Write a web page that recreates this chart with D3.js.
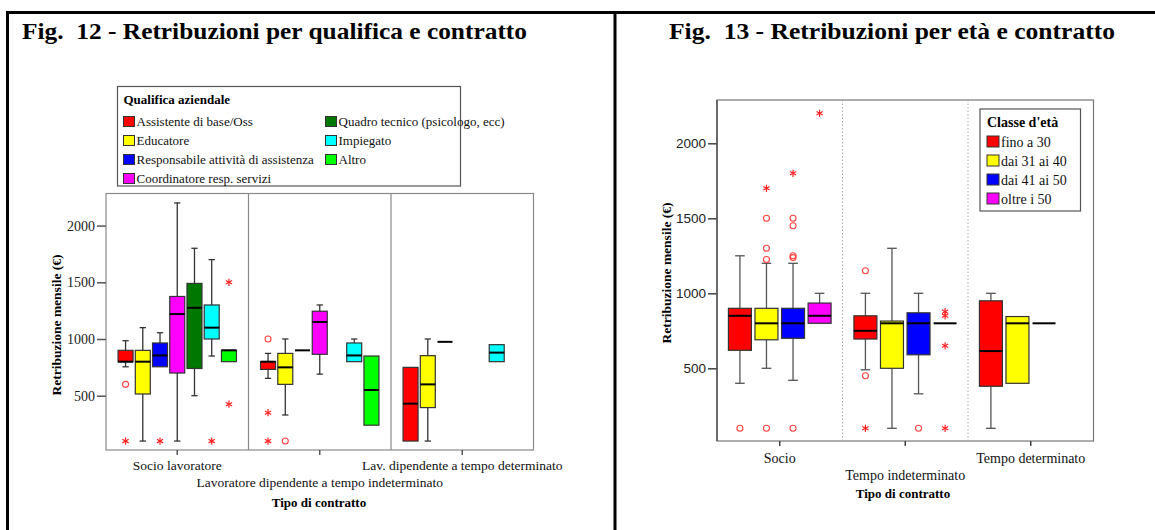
<!DOCTYPE html>
<html><head><meta charset="utf-8">
<script src="https://cdn.jsdelivr.net/npm/d3@7"></script>
<style>body{margin:0;background:#fff}svg{display:block}</style>
</head><body>
<svg id="c" width="1155" height="530"></svg>
<script>
// ---------- DATA: Fig. 12 ----------
const contracts12 = ["Socio lavoratore", "Lavoratore dipendente a tempo indeterminato", "Lav. dipendente a tempo determinato"];
const qualifiche = ["Assistente di base/Oss", "Educatore", "Responsabile attività di assistenza", "Coordinatore resp. servizi",
  "Quadro tecnico (psicologo, ecc)", "Impiegato", "Altro"];
const colors12 = ["#ff0000", "#ffff00", "#0000ff", "#ff00ff", "#007800", "#00ffff", "#00ff00"];
// [whisker low, Q1, median, Q3, whisker high] per contract
const assistente = [[755, 800, 800, 900, 985], [653, 732, 800, 800, 873], [null, 100, 430, 750, null]];
const educatore = [[100, 515, 800, 900, 1100], [330, 600, 750, 873, 1000], [100, 395, 600, 853, 1000]];
const responsabile = [[null, 755, 855, 965, 1055], [null, 900, 900, 900, null], [null, 975, 975, 975, null]];
const coordinatore = [[100, 700, 1220, 1375, 2200], [690, 865, 1150, 1245, 1300], null];
const quadro = [[500, 740, 1275, 1490, 1800], null, null];
const impiegato = [[850, 1000, 1100, 1300, 1700], [null, 800, 855, 965, 1000], [null, 800, 880, 950, null]];
const altro = [[null, 800, 900, 900, null], [null, 240, 550, 850, null], null];
const stats12 = [assistente, educatore, responsabile, coordinatore, quadro, impiegato, altro];
// outliers: [contract index, series index, value, kind ("o" = outlier, "*" = extreme)]
const outliers12 = [[0, 0, 600, "o"], [0, 0, 100, "*"], [0, 2, 100, "*"], [0, 5, 100, "*"], [0, 6, 1500, "*"], [0, 6, 425, "*"],
  [1, 0, 1000, "o"], [1, 0, 350, "*"], [1, 0, 100, "*"], [1, 1, 100, "o"]];
const yTicks12 = [500, 1000, 1500, 2000];

// ---------- DATA: Fig. 13 ----------
const contracts13 = ["Socio", "Tempo indeterminato", "Tempo determinato"];
const classi = ["fino a 30", "dai 31 ai 40", "dai 41 ai 50", "oltre i 50"];
const colors13 = ["#ff0000", "#ffff00", "#0000ff", "#ff00ff"];
const fino30 = [[400, 620, 850, 900, 1250], [490, 695, 750, 850, 1000], [100, 380, 615, 950, 1000]];
const dai31 = [[500, 690, 800, 900, 1200], [100, 500, 800, 815, 1300], [null, 400, 800, 845, null]];
const dai41 = [[420, 700, 800, 900, 1200], [330, 590, 800, 870, 1000], [null, 800, 800, 800, null]];
const oltre50 = [[null, 800, 850, 935, 1000], [null, 800, 800, 800, null], null];
const stats13 = [fino30, dai31, dai41, oltre50];
const outliers13 = [[0, 0, 100, "o"],
  [0, 1, 1700, "*"], [0, 1, 1500, "o"], [0, 1, 1300, "o"], [0, 1, 1225, "o"], [0, 1, 100, "o"],
  [0, 2, 1800, "*"], [0, 2, 1500, "o"], [0, 2, 1450, "o"], [0, 2, 1250, "o"], [0, 2, 1238, "o"], [0, 2, 100, "o"],
  [0, 3, 2200, "*"],
  [1, 0, 1150, "o"], [1, 0, 450, "o"], [1, 0, 100, "*"], [1, 2, 100, "o"],
  [1, 3, 878, "*"], [1, 3, 850, "*"], [1, 3, 650, "*"], [1, 3, 100, "*"]];
const yTicks13 = [500, 1000, 1500, 2000];

// ---------- DRAW ----------
const SERIF = '"Liberation Serif", "Times New Roman", serif';
const SANS = '"Liberation Sans", Arial, sans-serif';
const svg = d3.select("#c");

// outer frame
svg.append("line").attr("x1", 6).attr("x2", 1155).attr("y1", 12.5).attr("y2", 12.5).attr("stroke", "#000").attr("stroke-width", 3);
svg.append("line").attr("x1", 7.5).attr("x2", 7.5).attr("y1", 11).attr("y2", 530).attr("stroke", "#000").attr("stroke-width", 3);
svg.append("line").attr("x1", 615).attr("x2", 615).attr("y1", 11).attr("y2", 530).attr("stroke", "#000").attr("stroke-width", 3);

// titles
svg.append("text").attr("x", 22).attr("y", 39).style("white-space", "pre").style("font-family", SERIF)
  .style("font-size", "23px").style("font-weight", "bold").attr("textLength", 505).attr("lengthAdjust", "spacingAndGlyphs")
  .text("Fig.  12 - Retribuzioni per qualifica e contratto");
svg.append("text").attr("x", 669).attr("y", 39).style("white-space", "pre").style("font-family", SERIF)
  .style("font-size", "23px").style("font-weight", "bold").attr("textLength", 446).attr("lengthAdjust", "spacingAndGlyphs")
  .text("Fig.  13 - Retribuzioni per età e contratto");

function drawStar(g, cx, cy, r, color) {
  [90, 30, -30].forEach(a => {
    const t = a * Math.PI / 180;
    g.append("line").attr("x1", cx - r * Math.cos(t)).attr("y1", cy - r * Math.sin(t))
      .attr("x2", cx + r * Math.cos(t)).attr("y2", cy + r * Math.sin(t))
      .attr("stroke", color).attr("stroke-width", 1.2);
  });
}

function boxChart(cfg) {
  const g = svg.append("g");
  const x0 = d3.scaleBand().domain(cfg.contracts).range([cfg.left, cfg.right]);
  const x1 = d3.scaleBand().domain(cfg.series).range([0, x0.bandwidth()])
    .paddingInner(cfg.padIn).paddingOuter(cfg.padOut);
  const y = d3.scaleLinear().domain([0, 2000]).range(cfg.yRange);
  const bw = x1.bandwidth();

  // plot frame
  g.append("rect").attr("x", cfg.left).attr("y", cfg.top).attr("width", cfg.right - cfg.left)
    .attr("height", cfg.bottom - cfg.top).attr("fill", "#fff").attr("stroke", cfg.frameColor).attr("stroke-width", 1.2);
  // dividers
  cfg.contracts.slice(1).forEach(c => {
    g.append("line").attr("x1", x0(c)).attr("x2", x0(c)).attr("y1", cfg.top).attr("y2", cfg.bottom)
      .attr("stroke", cfg.dividerColor).attr("stroke-width", cfg.dividerWidth)
      .attr("stroke-dasharray", cfg.dividerDash);
  });

  // boxes
  cfg.series.forEach((s, si) => {
    cfg.contracts.forEach((c, ci) => {
      const st = cfg.stats[si][ci];
      if (!st) return;
      const [lo, q1, med, q3, hi] = st;
      const bx = x0(c) + x1(s), cx = bx + bw / 2, cap = bw * 0.42;
      const wk = (v, edge) => {
        g.append("line").attr("x1", cx).attr("x2", cx).attr("y1", y(v)).attr("y2", y(edge))
          .attr("stroke", cfg.whiskerColor).attr("stroke-width", 1.3);
        g.append("line").attr("x1", cx - cap / 2).attr("x2", cx + cap / 2).attr("y1", y(v)).attr("y2", y(v))
          .attr("stroke", cfg.whiskerColor).attr("stroke-width", 1.3);
      };
      if (hi != null) wk(hi, q3);
      if (lo != null) wk(lo, q1);
      if (q3 > q1) {
        g.append("rect").attr("x", bx).attr("y", y(q3)).attr("width", bw).attr("height", y(q1) - y(q3))
          .attr("fill", cfg.colors[si]).attr("stroke", "#333").attr("stroke-width", 1.2);
      }
      g.append("line").attr("x1", bx).attr("x2", bx + bw).attr("y1", y(med)).attr("y2", y(med))
        .attr("stroke", "#000").attr("stroke-width", 2);
    });
  });

  // outliers
  cfg.outliers.forEach(([ci, si, v, k]) => {
    const cx = x0(cfg.contracts[ci]) + x1(cfg.series[si]) + bw / 2;
    if (k === "o") {
      g.append("circle").attr("cx", cx).attr("cy", y(v)).attr("r", 3).attr("fill", "none")
        .attr("stroke", "#ff4040").attr("stroke-width", 1.1);
    } else {
      drawStar(g, cx, y(v), 3.6, "#ff2020");
    }
  });

  // y axis
  const ya = g.append("g").attr("transform", `translate(${cfg.left},0)`)
    .call(d3.axisLeft(y).tickValues(cfg.yTicks).tickSize(cfg.tickLen).tickPadding(2).tickFormat(d3.format("d")));
  ya.select(".domain").remove();
  ya.selectAll(".tick line").attr("stroke", cfg.tickColor).attr("stroke-width", 1.5);
  ya.selectAll(".tick text").style("font-family", cfg.tickFont).style("font-size", cfg.tickFontSize + "px").attr("fill", "#222");
  if (cfg.axisLine) {
    g.append("line").attr("x1", cfg.left).attr("x2", cfg.left).attr("y1", cfg.top).attr("y2", cfg.bottom)
      .attr("stroke", cfg.axisLine).attr("stroke-width", 1.5);
  }

  // x axis
  const xa = g.append("g").attr("transform", `translate(0,${cfg.bottom})`)
    .call(d3.axisBottom(x0).tickSize(5).tickFormat(""));
  xa.select(".domain").remove();
  xa.selectAll(".tick line").attr("stroke", cfg.tickColor).attr("stroke-width", 1.5);
  cfg.contracts.forEach((c, ci) => {
    g.append("text").attr("x", x0(c) + x0.bandwidth() / 2).attr("y", ci % 2 ? cfg.labelY2 : cfg.labelY1)
      .attr("text-anchor", "middle").style("font-family", SERIF).style("font-size", cfg.labelSize + "px")
      .attr("fill", "#111").text(c);
  });
  g.append("text").attr("x", cfg.xTitle[0]).attr("y", cfg.xTitle[1]).attr("text-anchor", "middle")
    .style("font-family", SERIF).style("font-size", "13px").style("font-weight", "bold").text("Tipo di contratto");
  g.append("text").attr("transform", `translate(${cfg.yTitle[0]},${cfg.yTitle[1]}) rotate(-90)`)
    .attr("text-anchor", "middle").style("font-family", SERIF).style("font-size", cfg.yTitleSize + "px")
    .style("font-weight", "bold").text("Retribuzione mensile (€)");

  // legend
  const L = cfg.legend;
  const lg = g.append("g");
  lg.append("rect").attr("x", L.x).attr("y", L.y).attr("width", L.w).attr("height", L.h)
    .attr("fill", "#fff").attr("stroke", "#555").attr("stroke-width", 1.2);
  lg.append("text").attr("x", L.x + L.pad).attr("y", L.y + L.titleY).style("font-family", SERIF)
    .style("font-size", L.fs + "px").style("font-weight", "bold").text(L.title);
  cfg.series.forEach((s, i) => {
    const col = Math.floor(i / L.rows), row = i % L.rows;
    const sx = L.x + L.pad + col * L.colW, sy = L.y + L.firstY + row * L.rowH;
    lg.append("rect").attr("x", sx).attr("y", sy).attr("width", L.sw).attr("height", L.sh)
      .attr("fill", cfg.colors[i]).attr("stroke", "#333").attr("stroke-width", 1);
    lg.append("text").attr("x", sx + L.sw + 2).attr("y", sy + L.sh - 0.5).style("font-family", SERIF)
      .style("font-size", L.fs + "px").attr("fill", "#111").text(s);
  });
}

boxChart({
  contracts: contracts12, series: qualifiche, colors: colors12, stats: stats12, outliers: outliers12, yTicks: yTicks12,
  left: 106, right: 533.5, top: 193.5, bottom: 450, yRange: [452.4, 225.6],
  padIn: 0.13, padOut: 0.7, frameColor: "#8a8a8a", dividerColor: "#8a8a8a", dividerWidth: 1.2, dividerDash: null,
  whiskerColor: "#333", tickColor: "#555", tickLen: 9, tickFont: SERIF, tickFontSize: 14, axisLine: null,
  labelY1: 470, labelY2: 486.5, labelSize: 13.5, xTitle: [319, 507], yTitle: [61, 325], yTitleSize: 13.5,
  legend: {x: 117.5, y: 86.5, w: 343, h: 99.5, pad: 6, title: "Qualifica aziendale", titleY: 17, fs: 13,
    firstY: 30, rowH: 19, rows: 4, colW: 202, sw: 11, sh: 10}
});

boxChart({
  contracts: contracts13, series: classi, colors: colors13, stats: stats13, outliers: outliers13, yTicks: yTicks13,
  left: 717, right: 1093.5, top: 100, bottom: 441, yRange: [443.3, 143.3],
  padIn: 0.135, padOut: 0.43, frameColor: "#777", dividerColor: "#aaa", dividerWidth: 1, dividerDash: "1.5,2",
  whiskerColor: "#555", tickColor: "#444", tickLen: 9, tickFont: SANS, tickFontSize: 13.5, axisLine: "#555",
  labelY1: 463, labelY2: 480, labelSize: 14, xTitle: [903, 498], yTitle: [671, 273], yTitleSize: 13.5,
  legend: {x: 980, y: 109, w: 100.5, h: 102, pad: 7, title: "Classe d'età", titleY: 18, fs: 14,
    firstY: 27, rowH: 19, rows: 4, colW: 0, sw: 12, sh: 11}
});
</script>
</body></html>
